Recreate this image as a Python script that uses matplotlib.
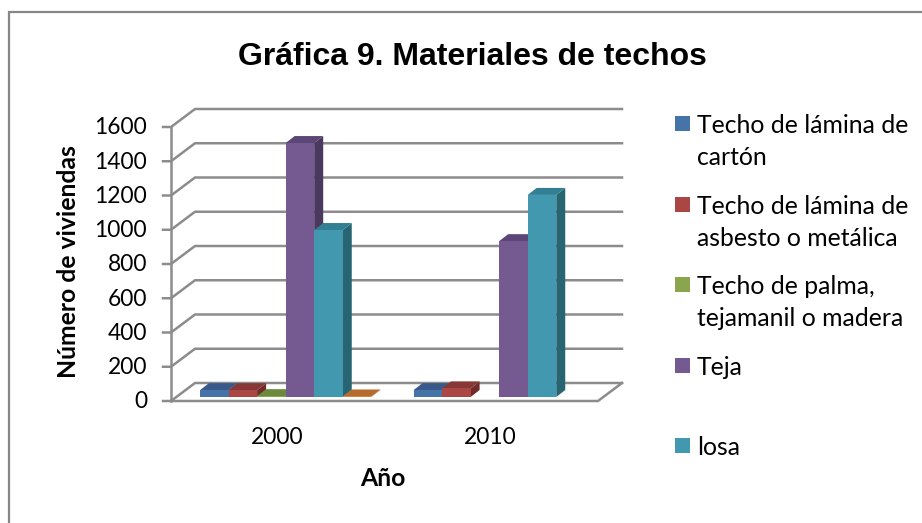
import matplotlib
matplotlib.use("Agg")
import matplotlib.pyplot as plt
from matplotlib.patches import Rectangle
from matplotlib.lines import Line2D

W, H = 922, 523
TITLE = "Gráfica 9. Materiales de techos"
YLABEL = "Número de viviendas"
XLABEL = "Año"
years = ["2000", "2010"]
yticks = [0, 200, 400, 600, 800, 1000, 1200, 1400, 1600]
series_names = ["Techo de lámina de\ncartón", "Techo de lámina de\nasbesto o metálica",
                "Techo de palma,\ntejamanil o madera", "Teja", "losa"]
carton = [40, 40]
asbesto = [40, 50]
palma = [5, 0]
teja = [1483, 910]
losa = [975, 1180]
otro = [3, 0]
front_colors = ["#4673A8", "#AA4744", "#89A54E", "#745A91", "#4198AF", "#DB843D"]
top_colors = ["#38598A", "#873735", "#6C8A3C", "#5C4676", "#327F93", "#B56B2E"]
side_colors = ["#2F4C70", "#6F2C2B", "#57702F", "#4A385F", "#276573", "#8F5524"]
legend_y_px = [123.5, 204.5, 284.5, 365.5, 445.5]

plt.rcParams["font.family"] = ["Lato", "DejaVu Sans"]
fig = plt.figure(figsize=(W / 100, H / 100), dpi=100)
fig.patch.set_facecolor("white")

def fx(p): return p / W
def fy(p): return 1 - p / H

# plot axes: the front plane of the 3-D box
L, R, T, B = 171, 598, 127, 401
ax = fig.add_axes([fx(L), fy(B), (R - L) / W, (B - T) / H])
ax.set_xlim(0, 2)
ax.set_ylim(0, 1600)
ax.axis("off")
px_x = 2 / (R - L)
px_y = 1600 / (B - T)
GRID = "#8C8C8C"
DX, DY = 24 * px_x, 18 * px_y

def line(xs, ys, **kw):
    kw.setdefault("color", GRID)
    kw.setdefault("lw", 1.8)
    kw.setdefault("zorder", 1)
    ax.plot(xs, ys, clip_on=False, solid_capstyle="projecting", solid_joinstyle="miter", **kw)

for v in yticks:
    line([-8 * px_x, 0, DX, 2 + DX], [v, v, v + DY, v + DY])
line([0, 0], [0, 1600])
line([0, 2, 2 + DX], [0, 0, DY])

# bars
values = [carton, asbesto, palma, teja, losa, otro]
bar_w = 28.55 * px_x
ox = 29 * px_x
oy = 4 * px_y
bdx, bdy = 9 * px_x, 7 * px_y
for g in range(2):
    for s, vals in enumerate(values):
        v = vals[g]
        if v <= 0:
            continue
        x0 = g + ox + s * bar_w
        x1 = x0 + bar_w
        y0 = oy
        y1 = oy + v
        z = 3 + s * 0.1
        ax.fill([x1, x1 + bdx, x1 + bdx, x1], [y0, y0 + bdy, y1 + bdy, y1],
                color=side_colors[s], lw=0, zorder=z, clip_on=False)
        ax.fill([x0, x1, x1 + bdx, x0 + bdx], [y1, y1, y1 + bdy, y1 + bdy],
                color=top_colors[s], lw=0, zorder=z, clip_on=False)
        ax.fill([x0, x1, x1, x0], [y0, y0, y1, y1],
                color=front_colors[s], lw=0, zorder=z, clip_on=False)

# tick labels
for v in yticks:
    ax.text(-24 * px_x, v - 1 * px_y, str(v), ha="right", va="center", fontsize=16.4, color="black", clip_on=False)
for i, y in enumerate(years):
    fig.text(fx(277 + i * 213.5), fy(438), y, ha="center", va="center", fontsize=16.4, color="black")

# titles
fig.text(fx(472), fy(57), TITLE, ha="center", va="center", fontsize=23, fontweight="bold",
         family="Liberation Sans", color="black")
fig.text(fx(68), fy(262), YLABEL, rotation=90, ha="center", va="center", fontsize=17.8, fontweight="bold", color="black")
fig.text(fx(383), fy(479), XLABEL, ha="center", va="center", fontsize=17.8, fontweight="bold", color="black")

# legend
for name, c, yp in zip(series_names, front_colors, legend_y_px):
    fig.add_artist(Rectangle((fx(675), fy(yp + 7.5)), 15 / W, 15 / H, transform=fig.transFigure,
                             facecolor=c, edgecolor="none"))
    lines = name.split("\n")
    for i, t in enumerate(lines):
        fig.text(fx(697), fy(yp + 2 + i * 32), t, ha="left", va="center", fontsize=17.8, color="black")

# outer frame (left and top only reach the picture)
fig.add_artist(Line2D([fx(9), fx(9), fx(W)], [0, fy(12), fy(12)], transform=fig.transFigure,
                      color="#868686", lw=1.6, solid_joinstyle="miter"))

fig.savefig("out.png", dpi=100)
